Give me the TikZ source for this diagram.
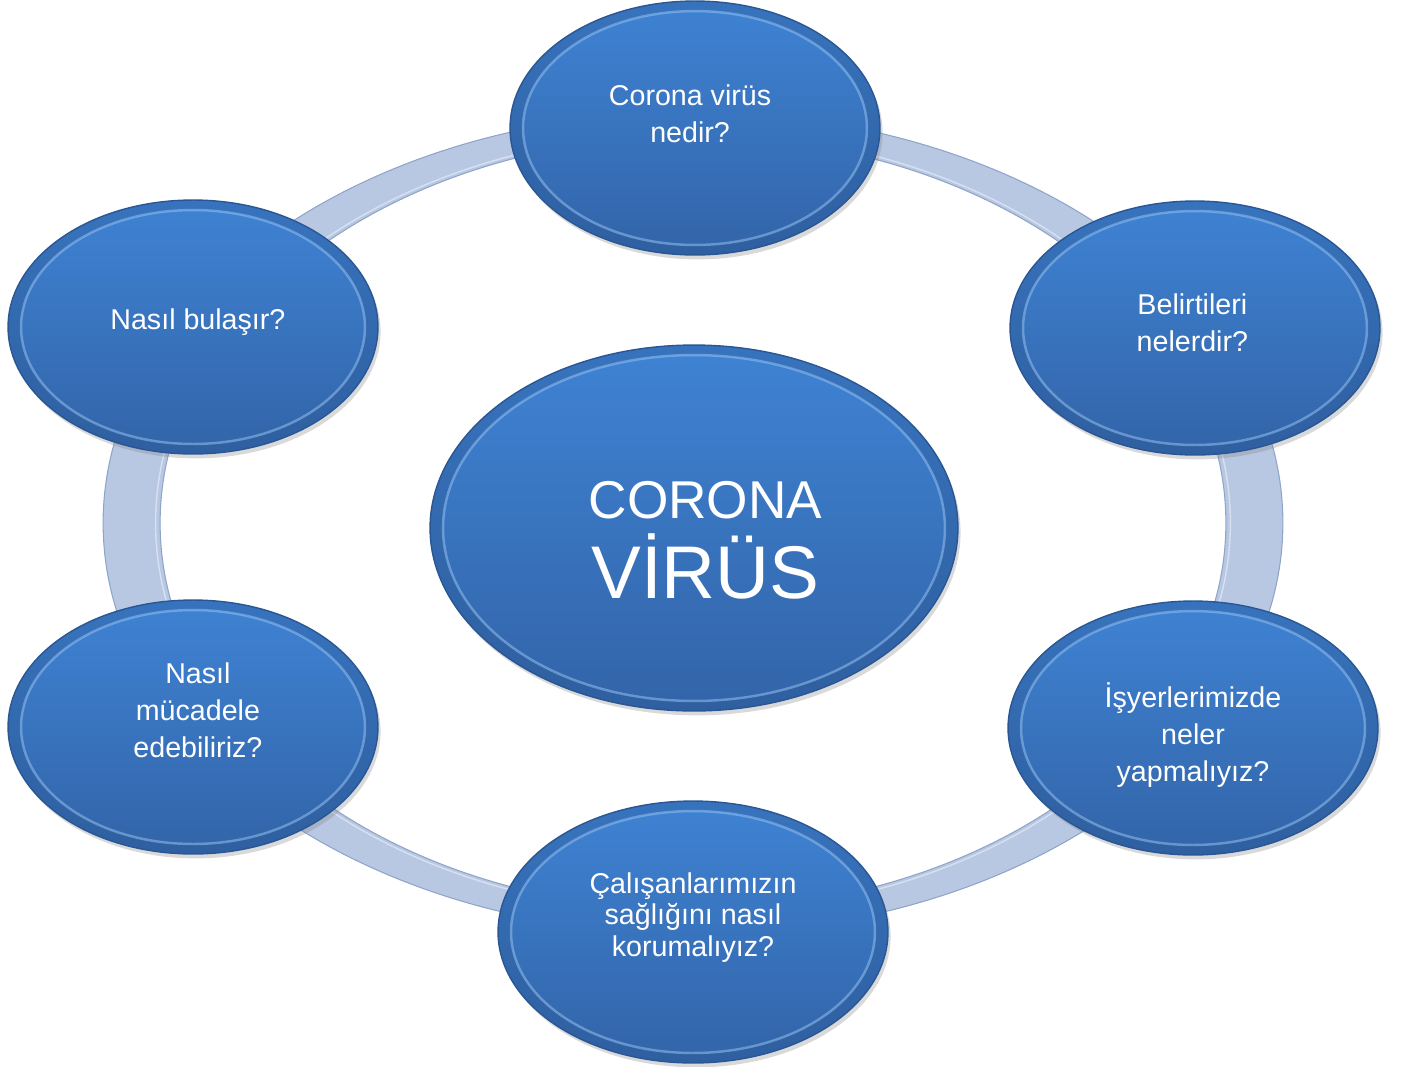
\documentclass[tikz,border=0pt]{standalone}
\usepackage{fontspec}
\setmainfont{Liberation Sans}
\usetikzlibrary{shapes.geometric,shadows}
\definecolor{bubTop}{HTML}{3F83D4}
\definecolor{bubBot}{HTML}{3264A8}
\definecolor{bubEdge}{HTML}{2A5793}
\definecolor{rimLight}{HTML}{9DC8F6}
\definecolor{ringFill}{HTML}{B8C8E3}
\definecolor{ringEdge}{HTML}{8EA5C9}
\tikzset{
  bubble/.style 2 args={ellipse, minimum width=#1, minimum height=#2, inner sep=0pt,
    top color=bubTop, bottom color=bubBot, draw=bubEdge, line width=0.8pt,
    drop shadow={shadow xshift=1.5pt, shadow yshift=-2.5pt, opacity=.3},
    path picture={
      \fill[bubEdge, opacity=.35, even odd rule]
        (path picture bounding box.center) ellipse [x radius=#1, y radius=#2]
        (path picture bounding box.center) ellipse [x radius=#1/2-0.26cm, y radius=#2/2-0.2cm];
      \draw[rimLight, opacity=.5, line width=1.4pt]
        (path picture bounding box.center) ellipse [x radius=#1/2-0.26cm, y radius=#2/2-0.2cm];
    }},
  qtext/.style={text=white, align=center, font=\fontsize{16.3}{21}\selectfont},
  ringband/.style={fill=ringFill, draw=ringEdge, line width=0.6pt, even odd rule}
}
\begin{document}
\begin{tikzpicture}[x=0.02cm, y=-0.02cm]
\useasboundingbox (0,0) rectangle (1404,1066);
% ring behind the bubbles
\coordinate (ringc) at (693,523);
\path[ringband] (ringc) ellipse [x radius=11.8cm, y radius=8.22cm]
  (ringc) ellipse [x radius=10.66cm, y radius=7.74cm];
\draw[white, opacity=.45, line width=0.8pt] (ringc) ellipse [x radius=10.75cm, y radius=7.8cm];
% centre
\node[bubble={10.56cm}{7.32cm},
  label={[qtext, font=\fontsize{42.5}{46}\selectfont, xshift=6.5pt, yshift=-7pt]center:{{\fontsize{30.3}{30}\selectfont CORONA}\\VİRÜS}}]
  (core) at (694,528) {};
% questions round the ring
\node[bubble={7.4cm}{5.08cm}, label={[qtext, xshift=-2.8pt, yshift=8pt]center:{Corona virüs\\nedir?}}] (qwhat) at (695,128) {};
\node[bubble={7.4cm}{5.08cm}, label={[qtext, xshift=-1.5pt, yshift=3pt]center:{Belirtileri\\nelerdir?}}] (qsign) at (1195,328) {};
\node[bubble={7.4cm}{5.08cm}, label={[qtext, yshift=-4pt]center:{İşyerlerimizde\\neler\\yapmalıyız?}}] (qwork) at (1193,728) {};
\node[bubble={7.8cm}{5.24cm}, label={[qtext, font=\fontsize{16.3}{18}\selectfont, yshift=8.3pt]center:{Çalışanlarımızın\\sağlığını nasıl\\korumalıyız?}}] (qstaff) at (693,932) {};
\node[bubble={7.4cm}{5.08cm}, label={[qtext, xshift=2.8pt, yshift=9.5pt]center:{Nasıl\\mücadele\\edebiliriz?}}] (qfight) at (193,727) {};
\node[bubble={7.4cm}{5.08cm}, label={[qtext, xshift=2.8pt, yshift=2.7pt]center:{Nasıl bulaşır?}}] (qspread) at (193,327) {};
%
\end{tikzpicture}
\end{document}
